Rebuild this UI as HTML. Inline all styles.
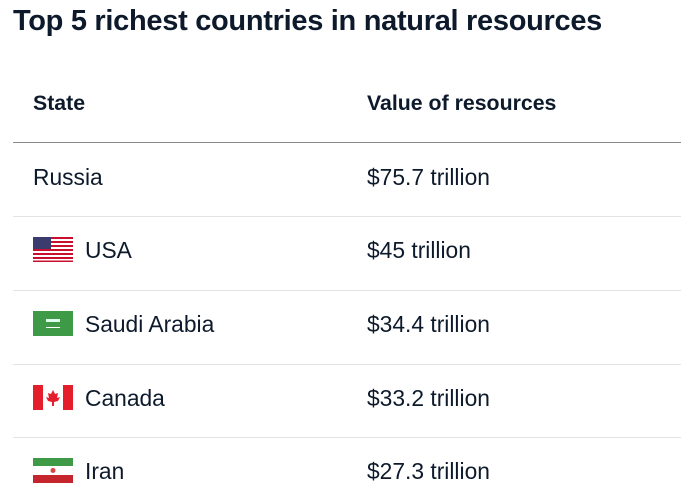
<!DOCTYPE html>
<html><head><style>
body{margin:0;width:681px;height:503px;background:#fff;overflow:hidden;font-family:"Liberation Sans",sans-serif;color:#0d1a2b;position:relative}
.a{position:absolute;white-space:nowrap}
.t{left:13px;top:5px;font-size:29px;font-weight:bold;letter-spacing:-0.3px}
.h{font-size:21.3px;font-weight:bold;top:91px}
.r{font-size:22.8px}
.l{position:absolute;left:13px;width:668px;height:1px;background:#e3e3e6}
.f{position:absolute;left:33px;width:40px;height:25px}
</style></head><body>
<div class="a t">Top 5 richest countries in natural resources</div>
<div class="a h" style="left:33px">State</div>
<div class="a h" style="left:367px">Value of resources</div>
<div class="l" style="top:142px;background:#888"></div>
<div class="a r" style="left:33px;top:164px">Russia</div><div class="a r" style="left:367px;top:164px">$75.7 trillion</div>
<div class="l" style="top:216px"></div>
<svg class="f" style="top:237px" viewBox="0 0 40 25"><rect width="40" height="25" fill="#fff"/><g fill="#c8102e"><rect y="0" width="40" height="2"/><rect y="4" width="40" height="2"/><rect y="8" width="40" height="2"/><rect y="12" width="40" height="2"/><rect y="16" width="40" height="2"/><rect y="20" width="40" height="2"/><rect y="23.5" width="40" height="1.5"/></g><rect width="18" height="12" fill="#3c3b6e"/></svg>
<div class="a r" style="left:85px;top:237px">USA</div><div class="a r" style="left:367px;top:237px">$45 trillion</div>
<div class="l" style="top:290px"></div>
<svg class="f" style="top:311px" viewBox="0 0 40 25"><rect width="40" height="25" fill="#3f9a47"/><rect x="13" y="8" width="14" height="3" fill="#dfe"/><rect x="13" y="16" width="14" height="1" fill="#fff"/></svg>
<div class="a r" style="left:85px;top:311px">Saudi Arabia</div><div class="a r" style="left:367px;top:311px">$34.4 trillion</div>
<div class="l" style="top:364px"></div>
<svg class="f" style="top:385px" viewBox="0 0 40 25"><rect width="40" height="25" fill="#fff"/><rect width="10" height="25" fill="#e41e2a"/><rect x="30" width="10" height="25" fill="#e41e2a"/><path d="M20 5 L22 9 L25 8 L24 13 L27 12 L25 16 L21 17 L21 21 L19 21 L19 17 L15 16 L13 12 L16 13 L15 8 L18 9Z" fill="#e41e2a"/></svg>
<div class="a r" style="left:85px;top:385px">Canada</div><div class="a r" style="left:367px;top:385px">$33.2 trillion</div>
<div class="l" style="top:437px"></div>
<svg class="f" style="top:458px" viewBox="0 0 40 25"><rect width="40" height="25" fill="#fff"/><rect width="40" height="8" fill="#3f9a47"/><rect y="17" width="40" height="8" fill="#c5252d"/><circle cx="20" cy="12.5" r="2.5" fill="#d44"/></svg>
<div class="a r" style="left:85px;top:458px">Iran</div><div class="a r" style="left:367px;top:458px">$27.3 trillion</div>
</body></html>
